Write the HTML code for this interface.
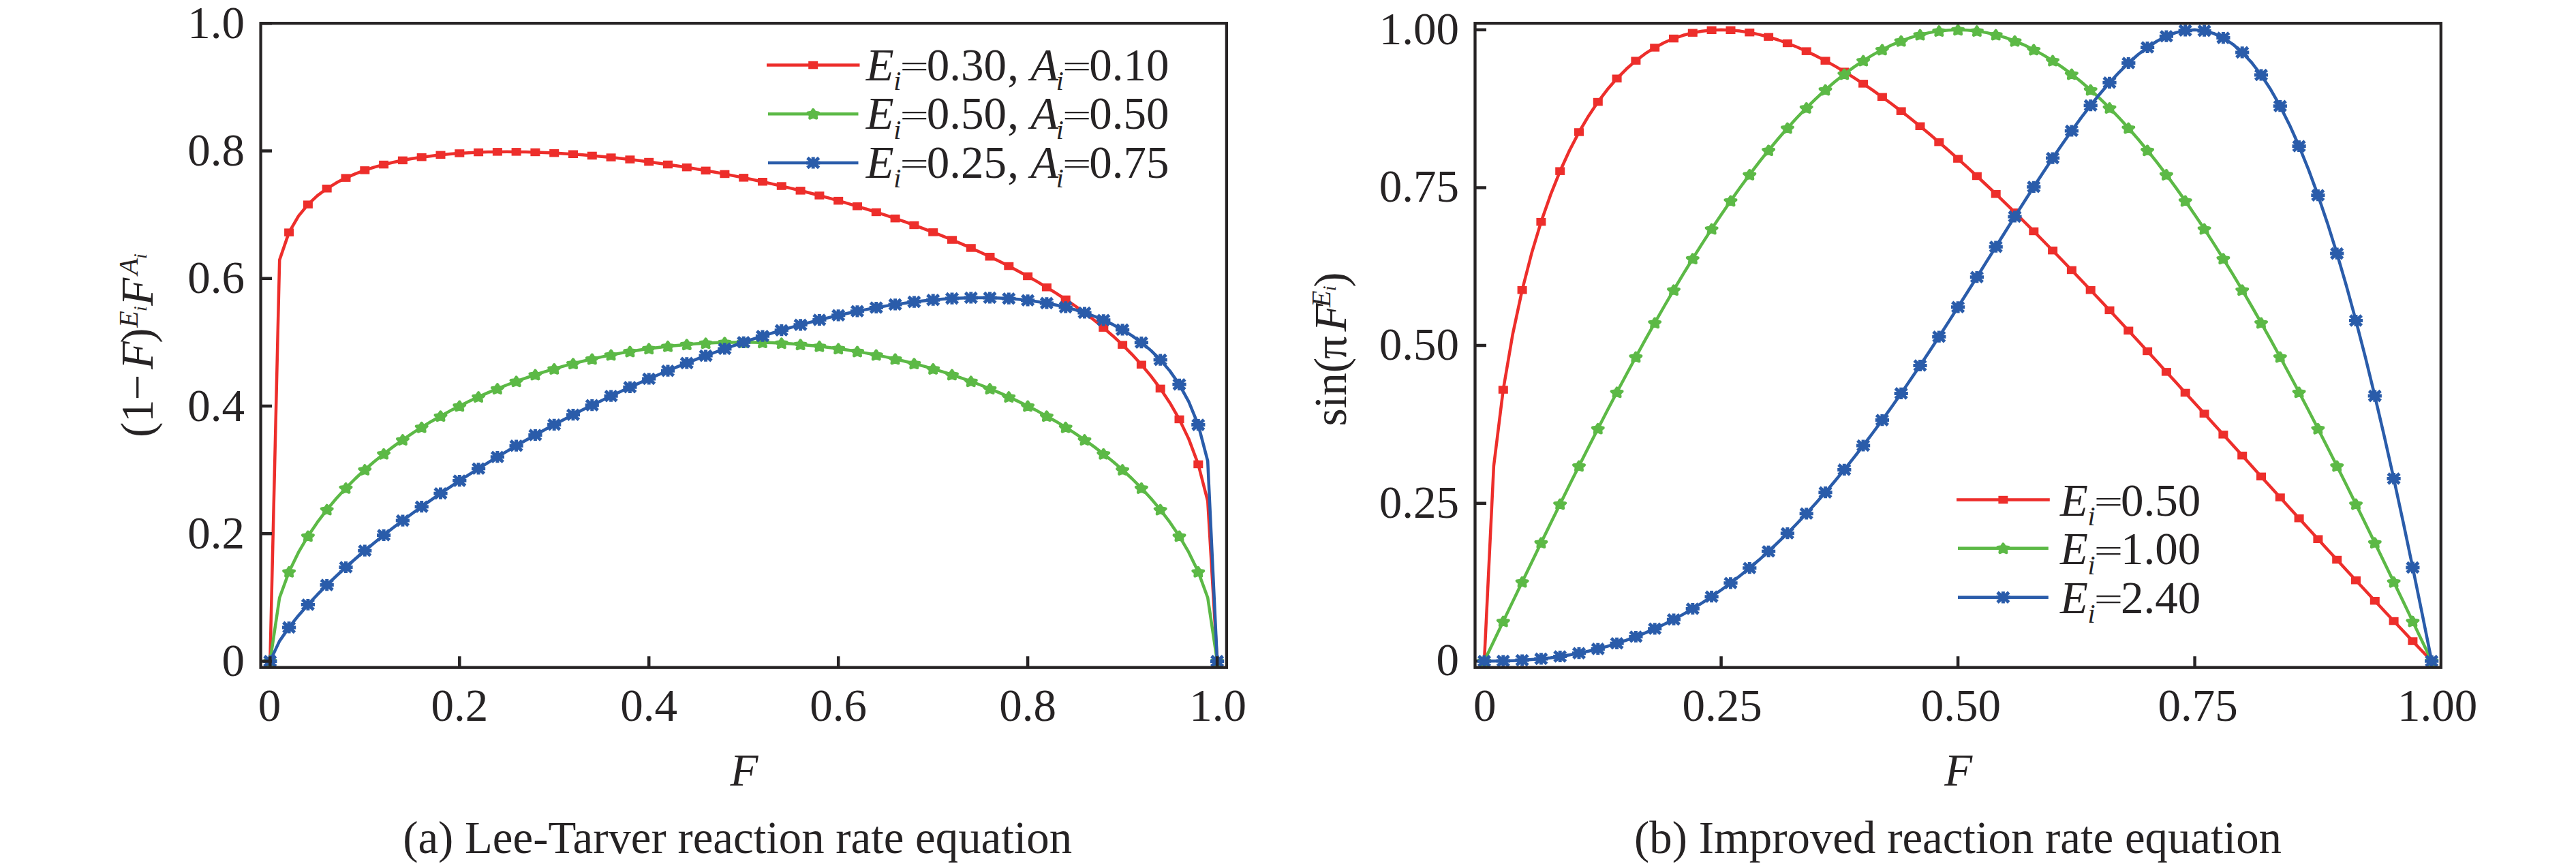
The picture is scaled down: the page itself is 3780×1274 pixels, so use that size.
<!DOCTYPE html>
<html><head><meta charset="utf-8"><title>Reaction rate equations</title>
<style>
html,body{margin:0;padding:0;background:#fff;}
body{width:3780px;height:1274px;overflow:hidden;}
svg{display:block;}
text{font-family:"Liberation Serif","Times New Roman",serif;fill:#262324;}
.i{font-style:italic;}
</style></head><body>
<svg width="3780" height="1274" viewBox="0 0 3780 1274">
<rect width="3780" height="1274" fill="#fff"/>
<path d="M396.3 970.4 L410.2 381.5 L424.1 341.1 L438.0 317.1 L451.9 300.1 L465.8 287.1 L479.7 276.8 L493.6 268.3 L507.5 261.1 L521.4 255.1 L535.3 249.9 L549.2 245.4 L563.1 241.6 L577.0 238.2 L590.9 235.3 L604.8 232.8 L618.7 230.7 L632.6 228.9 L646.5 227.3 L660.4 226.0 L674.3 225.0 L688.2 224.2 L702.1 223.5 L716.0 223.1 L729.9 222.9 L743.8 222.8 L757.6 222.9 L771.5 223.1 L785.4 223.5 L799.3 224.0 L813.2 224.6 L827.1 225.4 L841.0 226.3 L854.9 227.3 L868.8 228.4 L882.7 229.7 L896.6 231.0 L910.5 232.5 L924.4 234.1 L938.3 235.8 L952.2 237.5 L966.1 239.4 L980.0 241.4 L993.9 243.5 L1007.8 245.7 L1021.7 248.0 L1035.6 250.4 L1049.5 252.8 L1063.4 255.4 L1077.3 258.1 L1091.2 260.9 L1105.1 263.8 L1119.0 266.8 L1132.9 269.9 L1146.8 273.1 L1160.7 276.4 L1174.6 279.8 L1188.5 283.3 L1202.4 287.0 L1216.3 290.7 L1230.2 294.6 L1244.1 298.6 L1258.0 302.8 L1271.9 307.0 L1285.8 311.4 L1299.7 315.9 L1313.6 320.6 L1327.5 325.4 L1341.4 330.4 L1355.3 335.6 L1369.2 340.9 L1383.1 346.4 L1397.0 352.0 L1410.9 357.9 L1424.8 364.0 L1438.6 370.3 L1452.5 376.8 L1466.4 383.5 L1480.3 390.6 L1494.2 397.9 L1508.1 405.5 L1522.0 413.4 L1535.9 421.7 L1549.8 430.4 L1563.7 439.5 L1577.6 449.0 L1591.5 459.1 L1605.4 469.8 L1619.3 481.1 L1633.2 493.2 L1647.1 506.1 L1661.0 520.1 L1674.9 535.2 L1688.8 551.9 L1702.7 570.3 L1716.6 591.2 L1730.5 615.4 L1744.4 644.4 L1758.3 681.5 L1772.2 735.5 L1786.1 970.4" fill="none" stroke="#ed2e2b" stroke-width="4.5" stroke-linejoin="round"/>
<g><rect x="389.3" y="964.6" width="14.0" height="11.5" fill="#ed2e2b"/><rect x="417.1" y="335.4" width="14.0" height="11.5" fill="#ed2e2b"/><rect x="444.9" y="294.4" width="14.0" height="11.5" fill="#ed2e2b"/><rect x="472.7" y="271.0" width="14.0" height="11.5" fill="#ed2e2b"/><rect x="500.5" y="255.4" width="14.0" height="11.5" fill="#ed2e2b"/><rect x="528.3" y="244.1" width="14.0" height="11.5" fill="#ed2e2b"/><rect x="556.1" y="235.8" width="14.0" height="11.5" fill="#ed2e2b"/><rect x="583.9" y="229.6" width="14.0" height="11.5" fill="#ed2e2b"/><rect x="611.7" y="224.9" width="14.0" height="11.5" fill="#ed2e2b"/><rect x="639.5" y="221.6" width="14.0" height="11.5" fill="#ed2e2b"/><rect x="667.3" y="219.2" width="14.0" height="11.5" fill="#ed2e2b"/><rect x="695.1" y="217.8" width="14.0" height="11.5" fill="#ed2e2b"/><rect x="722.9" y="217.1" width="14.0" height="11.5" fill="#ed2e2b"/><rect x="750.6" y="217.1" width="14.0" height="11.5" fill="#ed2e2b"/><rect x="778.4" y="217.7" width="14.0" height="11.5" fill="#ed2e2b"/><rect x="806.2" y="218.9" width="14.0" height="11.5" fill="#ed2e2b"/><rect x="834.0" y="220.5" width="14.0" height="11.5" fill="#ed2e2b"/><rect x="861.8" y="222.7" width="14.0" height="11.5" fill="#ed2e2b"/><rect x="889.6" y="225.3" width="14.0" height="11.5" fill="#ed2e2b"/><rect x="917.4" y="228.3" width="14.0" height="11.5" fill="#ed2e2b"/><rect x="945.2" y="231.8" width="14.0" height="11.5" fill="#ed2e2b"/><rect x="973.0" y="235.7" width="14.0" height="11.5" fill="#ed2e2b"/><rect x="1000.8" y="239.9" width="14.0" height="11.5" fill="#ed2e2b"/><rect x="1028.6" y="244.6" width="14.0" height="11.5" fill="#ed2e2b"/><rect x="1056.4" y="249.7" width="14.0" height="11.5" fill="#ed2e2b"/><rect x="1084.2" y="255.1" width="14.0" height="11.5" fill="#ed2e2b"/><rect x="1112.0" y="261.0" width="14.0" height="11.5" fill="#ed2e2b"/><rect x="1139.8" y="267.3" width="14.0" height="11.5" fill="#ed2e2b"/><rect x="1167.6" y="274.1" width="14.0" height="11.5" fill="#ed2e2b"/><rect x="1195.4" y="281.2" width="14.0" height="11.5" fill="#ed2e2b"/><rect x="1223.2" y="288.9" width="14.0" height="11.5" fill="#ed2e2b"/><rect x="1251.0" y="297.0" width="14.0" height="11.5" fill="#ed2e2b"/><rect x="1278.8" y="305.7" width="14.0" height="11.5" fill="#ed2e2b"/><rect x="1306.6" y="314.9" width="14.0" height="11.5" fill="#ed2e2b"/><rect x="1334.4" y="324.7" width="14.0" height="11.5" fill="#ed2e2b"/><rect x="1362.2" y="335.1" width="14.0" height="11.5" fill="#ed2e2b"/><rect x="1390.0" y="346.3" width="14.0" height="11.5" fill="#ed2e2b"/><rect x="1417.8" y="358.2" width="14.0" height="11.5" fill="#ed2e2b"/><rect x="1445.5" y="371.0" width="14.0" height="11.5" fill="#ed2e2b"/><rect x="1473.3" y="384.8" width="14.0" height="11.5" fill="#ed2e2b"/><rect x="1501.1" y="399.7" width="14.0" height="11.5" fill="#ed2e2b"/><rect x="1528.9" y="416.0" width="14.0" height="11.5" fill="#ed2e2b"/><rect x="1556.7" y="433.7" width="14.0" height="11.5" fill="#ed2e2b"/><rect x="1584.5" y="453.4" width="14.0" height="11.5" fill="#ed2e2b"/><rect x="1612.3" y="475.4" width="14.0" height="11.5" fill="#ed2e2b"/><rect x="1640.1" y="500.4" width="14.0" height="11.5" fill="#ed2e2b"/><rect x="1667.9" y="529.5" width="14.0" height="11.5" fill="#ed2e2b"/><rect x="1695.7" y="564.6" width="14.0" height="11.5" fill="#ed2e2b"/><rect x="1723.5" y="609.7" width="14.0" height="11.5" fill="#ed2e2b"/><rect x="1751.3" y="675.7" width="14.0" height="11.5" fill="#ed2e2b"/><rect x="1779.1" y="964.6" width="14.0" height="11.5" fill="#ed2e2b"/></g>
<path d="M396.3 970.4 L410.2 877.2 L424.1 839.3 L438.0 810.7 L451.9 786.9 L465.8 766.4 L479.7 748.1 L493.6 731.5 L507.5 716.4 L521.4 702.5 L535.3 689.5 L549.2 677.5 L563.1 666.2 L577.0 655.6 L590.9 645.6 L604.8 636.1 L618.7 627.2 L632.6 618.7 L646.5 610.7 L660.4 603.1 L674.3 595.9 L688.2 589.1 L702.1 582.6 L716.0 576.4 L729.9 570.6 L743.8 565.0 L757.6 559.8 L771.5 554.8 L785.4 550.0 L799.3 545.6 L813.2 541.4 L827.1 537.4 L841.0 533.7 L854.9 530.2 L868.8 526.9 L882.7 523.9 L896.6 521.0 L910.5 518.4 L924.4 516.0 L938.3 513.8 L952.2 511.8 L966.1 509.9 L980.0 508.3 L993.9 506.9 L1007.8 505.7 L1021.7 504.6 L1035.6 503.8 L1049.5 503.1 L1063.4 502.7 L1077.3 502.4 L1091.2 502.3 L1105.1 502.4 L1119.0 502.7 L1132.9 503.1 L1146.8 503.8 L1160.7 504.6 L1174.6 505.7 L1188.5 506.9 L1202.4 508.3 L1216.3 509.9 L1230.2 511.8 L1244.1 513.8 L1258.0 516.0 L1271.9 518.4 L1285.8 521.0 L1299.7 523.9 L1313.6 526.9 L1327.5 530.2 L1341.4 533.7 L1355.3 537.4 L1369.2 541.4 L1383.1 545.6 L1397.0 550.0 L1410.9 554.8 L1424.8 559.8 L1438.6 565.0 L1452.5 570.6 L1466.4 576.4 L1480.3 582.6 L1494.2 589.1 L1508.1 595.9 L1522.0 603.1 L1535.9 610.7 L1549.8 618.7 L1563.7 627.2 L1577.6 636.1 L1591.5 645.6 L1605.4 655.6 L1619.3 666.2 L1633.2 677.5 L1647.1 689.5 L1661.0 702.5 L1674.9 716.4 L1688.8 731.5 L1702.7 748.1 L1716.6 766.4 L1730.5 786.9 L1744.4 810.7 L1758.3 839.3 L1772.2 877.2 L1786.1 970.4" fill="none" stroke="#5cb946" stroke-width="4.5" stroke-linejoin="round"/>
<g><polygon points="396.3,964.2 398.8,968.1 404.1,968.9 400.4,972.2 401.1,976.6 396.3,974.6 391.5,976.6 392.2,972.2 388.5,968.9 393.8,968.1" fill="#5cb946" stroke="#5cb946" stroke-width="4.4" stroke-linejoin="round"/><polygon points="424.1,833.1 426.6,837.1 431.9,837.9 428.2,841.1 428.9,845.5 424.1,843.6 419.3,845.5 420.0,841.1 416.3,837.9 421.6,837.1" fill="#5cb946" stroke="#5cb946" stroke-width="4.4" stroke-linejoin="round"/><polygon points="451.9,780.7 454.4,784.7 459.7,785.5 456.0,788.7 456.7,793.1 451.9,791.2 447.1,793.1 447.8,788.7 444.1,785.5 449.4,784.7" fill="#5cb946" stroke="#5cb946" stroke-width="4.4" stroke-linejoin="round"/><polygon points="479.7,741.9 482.2,745.8 487.5,746.6 483.8,749.8 484.5,754.3 479.7,752.3 474.9,754.3 475.6,749.8 471.9,746.6 477.2,745.8" fill="#5cb946" stroke="#5cb946" stroke-width="4.4" stroke-linejoin="round"/><polygon points="507.5,710.2 510.0,714.2 515.3,715.0 511.6,718.2 512.3,722.6 507.5,720.7 502.7,722.6 503.4,718.2 499.7,715.0 505.0,714.2" fill="#5cb946" stroke="#5cb946" stroke-width="4.4" stroke-linejoin="round"/><polygon points="535.3,683.3 537.8,687.3 543.1,688.1 539.4,691.3 540.1,695.7 535.3,693.8 530.5,695.7 531.2,691.3 527.5,688.1 532.8,687.3" fill="#5cb946" stroke="#5cb946" stroke-width="4.4" stroke-linejoin="round"/><polygon points="563.1,660.0 565.6,663.9 570.9,664.7 567.2,667.9 567.9,672.4 563.1,670.4 558.3,672.4 559.0,667.9 555.3,664.7 560.5,663.9" fill="#5cb946" stroke="#5cb946" stroke-width="4.4" stroke-linejoin="round"/><polygon points="590.9,639.4 593.4,643.3 598.7,644.1 595.0,647.3 595.7,651.8 590.9,649.8 586.1,651.8 586.8,647.3 583.1,644.1 588.3,643.3" fill="#5cb946" stroke="#5cb946" stroke-width="4.4" stroke-linejoin="round"/><polygon points="618.7,621.0 621.2,624.9 626.5,625.7 622.8,628.9 623.5,633.4 618.7,631.4 613.8,633.4 614.6,628.9 610.9,625.7 616.1,624.9" fill="#5cb946" stroke="#5cb946" stroke-width="4.4" stroke-linejoin="round"/><polygon points="646.5,604.5 649.0,608.5 654.3,609.3 650.6,612.5 651.3,616.9 646.5,615.0 641.6,616.9 642.4,612.5 638.7,609.3 643.9,608.5" fill="#5cb946" stroke="#5cb946" stroke-width="4.4" stroke-linejoin="round"/><polygon points="674.3,589.7 676.8,593.7 682.1,594.5 678.3,597.7 679.1,602.1 674.3,600.2 669.4,602.1 670.2,597.7 666.5,594.5 671.7,593.7" fill="#5cb946" stroke="#5cb946" stroke-width="4.4" stroke-linejoin="round"/><polygon points="702.1,576.4 704.6,580.3 709.9,581.1 706.1,584.3 706.9,588.8 702.1,586.8 697.2,588.8 698.0,584.3 694.3,581.1 699.5,580.3" fill="#5cb946" stroke="#5cb946" stroke-width="4.4" stroke-linejoin="round"/><polygon points="729.9,564.4 732.4,568.3 737.7,569.1 733.9,572.3 734.7,576.8 729.9,574.8 725.0,576.8 725.8,572.3 722.1,569.1 727.3,568.3" fill="#5cb946" stroke="#5cb946" stroke-width="4.4" stroke-linejoin="round"/><polygon points="757.6,553.6 760.2,557.5 765.4,558.3 761.7,561.5 762.5,566.0 757.6,564.0 752.8,566.0 753.6,561.5 749.8,558.3 755.1,557.5" fill="#5cb946" stroke="#5cb946" stroke-width="4.4" stroke-linejoin="round"/><polygon points="785.4,543.8 788.0,547.8 793.2,548.6 789.5,551.8 790.3,556.2 785.4,554.3 780.6,556.2 781.4,551.8 777.6,548.6 782.9,547.8" fill="#5cb946" stroke="#5cb946" stroke-width="4.4" stroke-linejoin="round"/><polygon points="813.2,535.2 815.8,539.1 821.0,539.9 817.3,543.1 818.1,547.6 813.2,545.6 808.4,547.6 809.2,543.1 805.4,539.9 810.7,539.1" fill="#5cb946" stroke="#5cb946" stroke-width="4.4" stroke-linejoin="round"/><polygon points="841.0,527.5 843.6,531.4 848.8,532.2 845.1,535.5 845.9,539.9 841.0,537.9 836.2,539.9 836.9,535.5 833.2,532.2 838.5,531.4" fill="#5cb946" stroke="#5cb946" stroke-width="4.4" stroke-linejoin="round"/><polygon points="868.8,520.7 871.4,524.7 876.6,525.5 872.9,528.7 873.7,533.1 868.8,531.2 864.0,533.1 864.7,528.7 861.0,525.5 866.3,524.7" fill="#5cb946" stroke="#5cb946" stroke-width="4.4" stroke-linejoin="round"/><polygon points="896.6,514.8 899.2,518.8 904.4,519.6 900.7,522.8 901.4,527.2 896.6,525.3 891.8,527.2 892.5,522.8 888.8,519.6 894.1,518.8" fill="#5cb946" stroke="#5cb946" stroke-width="4.4" stroke-linejoin="round"/><polygon points="924.4,509.8 927.0,513.7 932.2,514.5 928.5,517.7 929.2,522.2 924.4,520.2 919.6,522.2 920.3,517.7 916.6,514.5 921.9,513.7" fill="#5cb946" stroke="#5cb946" stroke-width="4.4" stroke-linejoin="round"/><polygon points="952.2,505.6 954.7,509.5 960.0,510.3 956.3,513.5 957.0,518.0 952.2,516.0 947.4,518.0 948.1,513.5 944.4,510.3 949.7,509.5" fill="#5cb946" stroke="#5cb946" stroke-width="4.4" stroke-linejoin="round"/><polygon points="980.0,502.1 982.5,506.1 987.8,506.9 984.1,510.1 984.8,514.5 980.0,512.6 975.2,514.5 975.9,510.1 972.2,506.9 977.5,506.1" fill="#5cb946" stroke="#5cb946" stroke-width="4.4" stroke-linejoin="round"/><polygon points="1007.8,499.5 1010.3,503.4 1015.6,504.2 1011.9,507.4 1012.6,511.9 1007.8,509.9 1003.0,511.9 1003.7,507.4 1000.0,504.2 1005.3,503.4" fill="#5cb946" stroke="#5cb946" stroke-width="4.4" stroke-linejoin="round"/><polygon points="1035.6,497.6 1038.1,501.5 1043.4,502.3 1039.7,505.6 1040.4,510.0 1035.6,508.0 1030.8,510.0 1031.5,505.6 1027.8,502.3 1033.1,501.5" fill="#5cb946" stroke="#5cb946" stroke-width="4.4" stroke-linejoin="round"/><polygon points="1063.4,496.5 1065.9,500.4 1071.2,501.2 1067.5,504.4 1068.2,508.9 1063.4,506.9 1058.6,508.9 1059.3,504.4 1055.6,501.2 1060.9,500.4" fill="#5cb946" stroke="#5cb946" stroke-width="4.4" stroke-linejoin="round"/><polygon points="1091.2,496.1 1093.7,500.0 1099.0,500.8 1095.3,504.1 1096.0,508.5 1091.2,506.5 1086.4,508.5 1087.1,504.1 1083.4,500.8 1088.7,500.0" fill="#5cb946" stroke="#5cb946" stroke-width="4.4" stroke-linejoin="round"/><polygon points="1119.0,496.5 1121.5,500.4 1126.8,501.2 1123.1,504.4 1123.8,508.9 1119.0,506.9 1114.2,508.9 1114.9,504.4 1111.2,501.2 1116.5,500.4" fill="#5cb946" stroke="#5cb946" stroke-width="4.4" stroke-linejoin="round"/><polygon points="1146.8,497.6 1149.3,501.5 1154.6,502.3 1150.9,505.6 1151.6,510.0 1146.8,508.0 1142.0,510.0 1142.7,505.6 1139.0,502.3 1144.3,501.5" fill="#5cb946" stroke="#5cb946" stroke-width="4.4" stroke-linejoin="round"/><polygon points="1174.6,499.5 1177.1,503.4 1182.4,504.2 1178.7,507.4 1179.4,511.9 1174.6,509.9 1169.8,511.9 1170.5,507.4 1166.8,504.2 1172.1,503.4" fill="#5cb946" stroke="#5cb946" stroke-width="4.4" stroke-linejoin="round"/><polygon points="1202.4,502.1 1204.9,506.1 1210.2,506.9 1206.5,510.1 1207.2,514.5 1202.4,512.6 1197.6,514.5 1198.3,510.1 1194.6,506.9 1199.9,506.1" fill="#5cb946" stroke="#5cb946" stroke-width="4.4" stroke-linejoin="round"/><polygon points="1230.2,505.6 1232.7,509.5 1238.0,510.3 1234.3,513.5 1235.0,518.0 1230.2,516.0 1225.4,518.0 1226.1,513.5 1222.4,510.3 1227.7,509.5" fill="#5cb946" stroke="#5cb946" stroke-width="4.4" stroke-linejoin="round"/><polygon points="1258.0,509.8 1260.5,513.7 1265.8,514.5 1262.1,517.7 1262.8,522.2 1258.0,520.2 1253.2,522.2 1253.9,517.7 1250.2,514.5 1255.4,513.7" fill="#5cb946" stroke="#5cb946" stroke-width="4.4" stroke-linejoin="round"/><polygon points="1285.8,514.8 1288.3,518.8 1293.6,519.6 1289.9,522.8 1290.6,527.2 1285.8,525.3 1281.0,527.2 1281.7,522.8 1278.0,519.6 1283.2,518.8" fill="#5cb946" stroke="#5cb946" stroke-width="4.4" stroke-linejoin="round"/><polygon points="1313.6,520.7 1316.1,524.7 1321.4,525.5 1317.7,528.7 1318.4,533.1 1313.6,531.2 1308.7,533.1 1309.5,528.7 1305.8,525.5 1311.0,524.7" fill="#5cb946" stroke="#5cb946" stroke-width="4.4" stroke-linejoin="round"/><polygon points="1341.4,527.5 1343.9,531.4 1349.2,532.2 1345.5,535.5 1346.2,539.9 1341.4,537.9 1336.5,539.9 1337.3,535.5 1333.6,532.2 1338.8,531.4" fill="#5cb946" stroke="#5cb946" stroke-width="4.4" stroke-linejoin="round"/><polygon points="1369.2,535.2 1371.7,539.1 1377.0,539.9 1373.2,543.1 1374.0,547.6 1369.2,545.6 1364.3,547.6 1365.1,543.1 1361.4,539.9 1366.6,539.1" fill="#5cb946" stroke="#5cb946" stroke-width="4.4" stroke-linejoin="round"/><polygon points="1397.0,543.8 1399.5,547.8 1404.8,548.6 1401.0,551.8 1401.8,556.2 1397.0,554.3 1392.1,556.2 1392.9,551.8 1389.2,548.6 1394.4,547.8" fill="#5cb946" stroke="#5cb946" stroke-width="4.4" stroke-linejoin="round"/><polygon points="1424.8,553.6 1427.3,557.5 1432.6,558.3 1428.8,561.5 1429.6,566.0 1424.8,564.0 1419.9,566.0 1420.7,561.5 1417.0,558.3 1422.2,557.5" fill="#5cb946" stroke="#5cb946" stroke-width="4.4" stroke-linejoin="round"/><polygon points="1452.5,564.4 1455.1,568.3 1460.3,569.1 1456.6,572.3 1457.4,576.8 1452.5,574.8 1447.7,576.8 1448.5,572.3 1444.7,569.1 1450.0,568.3" fill="#5cb946" stroke="#5cb946" stroke-width="4.4" stroke-linejoin="round"/><polygon points="1480.3,576.4 1482.9,580.3 1488.1,581.1 1484.4,584.3 1485.2,588.8 1480.3,586.8 1475.5,588.8 1476.3,584.3 1472.5,581.1 1477.8,580.3" fill="#5cb946" stroke="#5cb946" stroke-width="4.4" stroke-linejoin="round"/><polygon points="1508.1,589.7 1510.7,593.7 1515.9,594.5 1512.2,597.7 1513.0,602.1 1508.1,600.2 1503.3,602.1 1504.1,597.7 1500.3,594.5 1505.6,593.7" fill="#5cb946" stroke="#5cb946" stroke-width="4.4" stroke-linejoin="round"/><polygon points="1535.9,604.5 1538.5,608.5 1543.7,609.3 1540.0,612.5 1540.8,616.9 1535.9,615.0 1531.1,616.9 1531.8,612.5 1528.1,609.3 1533.4,608.5" fill="#5cb946" stroke="#5cb946" stroke-width="4.4" stroke-linejoin="round"/><polygon points="1563.7,621.0 1566.3,624.9 1571.5,625.7 1567.8,628.9 1568.6,633.4 1563.7,631.4 1558.9,633.4 1559.6,628.9 1555.9,625.7 1561.2,624.9" fill="#5cb946" stroke="#5cb946" stroke-width="4.4" stroke-linejoin="round"/><polygon points="1591.5,639.4 1594.1,643.3 1599.3,644.1 1595.6,647.3 1596.3,651.8 1591.5,649.8 1586.7,651.8 1587.4,647.3 1583.7,644.1 1589.0,643.3" fill="#5cb946" stroke="#5cb946" stroke-width="4.4" stroke-linejoin="round"/><polygon points="1619.3,660.0 1621.9,663.9 1627.1,664.7 1623.4,667.9 1624.1,672.4 1619.3,670.4 1614.5,672.4 1615.2,667.9 1611.5,664.7 1616.8,663.9" fill="#5cb946" stroke="#5cb946" stroke-width="4.4" stroke-linejoin="round"/><polygon points="1647.1,683.3 1649.6,687.3 1654.9,688.1 1651.2,691.3 1651.9,695.7 1647.1,693.8 1642.3,695.7 1643.0,691.3 1639.3,688.1 1644.6,687.3" fill="#5cb946" stroke="#5cb946" stroke-width="4.4" stroke-linejoin="round"/><polygon points="1674.9,710.2 1677.4,714.2 1682.7,715.0 1679.0,718.2 1679.7,722.6 1674.9,720.7 1670.1,722.6 1670.8,718.2 1667.1,715.0 1672.4,714.2" fill="#5cb946" stroke="#5cb946" stroke-width="4.4" stroke-linejoin="round"/><polygon points="1702.7,741.9 1705.2,745.8 1710.5,746.6 1706.8,749.8 1707.5,754.3 1702.7,752.3 1697.9,754.3 1698.6,749.8 1694.9,746.6 1700.2,745.8" fill="#5cb946" stroke="#5cb946" stroke-width="4.4" stroke-linejoin="round"/><polygon points="1730.5,780.7 1733.0,784.7 1738.3,785.5 1734.6,788.7 1735.3,793.1 1730.5,791.2 1725.7,793.1 1726.4,788.7 1722.7,785.5 1728.0,784.7" fill="#5cb946" stroke="#5cb946" stroke-width="4.4" stroke-linejoin="round"/><polygon points="1758.3,833.1 1760.8,837.1 1766.1,837.9 1762.4,841.1 1763.1,845.5 1758.3,843.6 1753.5,845.5 1754.2,841.1 1750.5,837.9 1755.8,837.1" fill="#5cb946" stroke="#5cb946" stroke-width="4.4" stroke-linejoin="round"/><polygon points="1786.1,964.2 1788.6,968.1 1793.9,968.9 1790.2,972.2 1790.9,976.6 1786.1,974.6 1781.3,976.6 1782.0,972.2 1778.3,968.9 1783.6,968.1" fill="#5cb946" stroke="#5cb946" stroke-width="4.4" stroke-linejoin="round"/></g>
<path d="M396.3 970.4 L410.2 940.9 L424.1 920.9 L438.0 903.4 L451.9 887.5 L465.8 872.7 L479.7 858.6 L493.6 845.3 L507.5 832.5 L521.4 820.2 L535.3 808.2 L549.2 796.7 L563.1 785.5 L577.0 774.6 L590.9 764.1 L604.8 753.7 L618.7 743.7 L632.6 733.8 L646.5 724.2 L660.4 714.8 L674.3 705.6 L688.2 696.6 L702.1 687.8 L716.0 679.1 L729.9 670.7 L743.8 662.4 L757.6 654.2 L771.5 646.3 L785.4 638.5 L799.3 630.8 L813.2 623.3 L827.1 615.9 L841.0 608.7 L854.9 601.6 L868.8 594.7 L882.7 587.9 L896.6 581.2 L910.5 574.7 L924.4 568.3 L938.3 562.1 L952.2 556.0 L966.1 550.0 L980.0 544.2 L993.9 538.4 L1007.8 532.9 L1021.7 527.4 L1035.6 522.1 L1049.5 517.0 L1063.4 511.9 L1077.3 507.1 L1091.2 502.3 L1105.1 497.7 L1119.0 493.2 L1132.9 488.9 L1146.8 484.7 L1160.7 480.7 L1174.6 476.8 L1188.5 473.1 L1202.4 469.5 L1216.3 466.1 L1230.2 462.8 L1244.1 459.7 L1258.0 456.8 L1271.9 454.1 L1285.8 451.5 L1299.7 449.1 L1313.6 446.9 L1327.5 444.9 L1341.4 443.1 L1355.3 441.5 L1369.2 440.2 L1383.1 439.0 L1397.0 438.1 L1410.9 437.4 L1424.8 437.0 L1438.6 436.9 L1452.5 437.0 L1466.4 437.5 L1480.3 438.2 L1494.2 439.3 L1508.1 440.8 L1522.0 442.7 L1535.9 444.9 L1549.8 447.7 L1563.7 450.9 L1577.6 454.6 L1591.5 459.0 L1605.4 464.0 L1619.3 469.8 L1633.2 476.4 L1647.1 483.9 L1661.0 492.6 L1674.9 502.7 L1688.8 514.4 L1702.7 528.1 L1716.6 544.4 L1730.5 564.3 L1744.4 589.6 L1758.3 623.6 L1772.2 676.6 L1786.1 970.4" fill="none" stroke="#2a5caa" stroke-width="4.5" stroke-linejoin="round"/>
<g><path d="M386.2 970.4H406.4M396.3 961.8V979.0M387.9 963.0L404.7 977.8M387.9 977.8L404.7 963.0" stroke="#2a5caa" stroke-width="5.0" fill="none"/><path d="M414.0 920.9H434.2M424.1 912.3V929.5M415.7 913.5L432.5 928.3M415.7 928.3L432.5 913.5" stroke="#2a5caa" stroke-width="5.0" fill="none"/><path d="M441.8 887.5H462.0M451.9 878.9V896.1M443.5 880.1L460.3 894.9M443.5 894.9L460.3 880.1" stroke="#2a5caa" stroke-width="5.0" fill="none"/><path d="M469.6 858.6H489.8M479.7 850.0V867.2M471.3 851.2L488.1 866.0M471.3 866.0L488.1 851.2" stroke="#2a5caa" stroke-width="5.0" fill="none"/><path d="M497.4 832.5H517.6M507.5 823.9V841.1M499.1 825.1L515.9 839.9M499.1 839.9L515.9 825.1" stroke="#2a5caa" stroke-width="5.0" fill="none"/><path d="M525.2 808.2H545.4M535.3 799.6V816.8M526.9 800.8L543.7 815.6M526.9 815.6L543.7 800.8" stroke="#2a5caa" stroke-width="5.0" fill="none"/><path d="M553.0 785.5H573.2M563.1 776.9V794.1M554.7 778.1L571.5 792.9M554.7 792.9L571.5 778.1" stroke="#2a5caa" stroke-width="5.0" fill="none"/><path d="M580.8 764.1H601.0M590.9 755.5V772.7M582.5 756.7L599.3 771.5M582.5 771.5L599.3 756.7" stroke="#2a5caa" stroke-width="5.0" fill="none"/><path d="M608.6 743.7H628.8M618.7 735.1V752.3M610.3 736.3L627.1 751.1M610.3 751.1L627.1 736.3" stroke="#2a5caa" stroke-width="5.0" fill="none"/><path d="M636.4 724.2H656.6M646.5 715.6V732.8M638.1 716.8L654.9 731.6M638.1 731.6L654.9 716.8" stroke="#2a5caa" stroke-width="5.0" fill="none"/><path d="M664.2 705.6H684.4M674.3 697.0V714.2M665.9 698.2L682.7 713.0M665.9 713.0L682.7 698.2" stroke="#2a5caa" stroke-width="5.0" fill="none"/><path d="M692.0 687.8H712.2M702.1 679.2V696.4M693.7 680.4L710.5 695.2M693.7 695.2L710.5 680.4" stroke="#2a5caa" stroke-width="5.0" fill="none"/><path d="M719.8 670.7H740.0M729.9 662.1V679.3M721.5 663.3L738.3 678.1M721.5 678.1L738.3 663.3" stroke="#2a5caa" stroke-width="5.0" fill="none"/><path d="M747.5 654.2H767.7M757.6 645.6V662.8M749.2 646.8L766.0 661.6M749.2 661.6L766.0 646.8" stroke="#2a5caa" stroke-width="5.0" fill="none"/><path d="M775.3 638.5H795.5M785.4 629.9V647.1M777.0 631.1L793.8 645.9M777.0 645.9L793.8 631.1" stroke="#2a5caa" stroke-width="5.0" fill="none"/><path d="M803.1 623.3H823.3M813.2 614.7V631.9M804.8 615.9L821.6 630.7M804.8 630.7L821.6 615.9" stroke="#2a5caa" stroke-width="5.0" fill="none"/><path d="M830.9 608.7H851.1M841.0 600.1V617.3M832.6 601.3L849.4 616.1M832.6 616.1L849.4 601.3" stroke="#2a5caa" stroke-width="5.0" fill="none"/><path d="M858.7 594.7H878.9M868.8 586.1V603.3M860.4 587.3L877.2 602.1M860.4 602.1L877.2 587.3" stroke="#2a5caa" stroke-width="5.0" fill="none"/><path d="M886.5 581.2H906.7M896.6 572.6V589.8M888.2 573.8L905.0 588.6M888.2 588.6L905.0 573.8" stroke="#2a5caa" stroke-width="5.0" fill="none"/><path d="M914.3 568.3H934.5M924.4 559.7V576.9M916.0 560.9L932.8 575.7M916.0 575.7L932.8 560.9" stroke="#2a5caa" stroke-width="5.0" fill="none"/><path d="M942.1 556.0H962.3M952.2 547.4V564.6M943.8 548.6L960.6 563.4M943.8 563.4L960.6 548.6" stroke="#2a5caa" stroke-width="5.0" fill="none"/><path d="M969.9 544.2H990.1M980.0 535.6V552.8M971.6 536.8L988.4 551.6M971.6 551.6L988.4 536.8" stroke="#2a5caa" stroke-width="5.0" fill="none"/><path d="M997.7 532.9H1017.9M1007.8 524.3V541.5M999.4 525.5L1016.2 540.3M999.4 540.3L1016.2 525.5" stroke="#2a5caa" stroke-width="5.0" fill="none"/><path d="M1025.5 522.1H1045.7M1035.6 513.5V530.7M1027.2 514.7L1044.0 529.5M1027.2 529.5L1044.0 514.7" stroke="#2a5caa" stroke-width="5.0" fill="none"/><path d="M1053.3 511.9H1073.5M1063.4 503.3V520.5M1055.0 504.5L1071.8 519.3M1055.0 519.3L1071.8 504.5" stroke="#2a5caa" stroke-width="5.0" fill="none"/><path d="M1081.1 502.3H1101.3M1091.2 493.7V510.9M1082.8 494.9L1099.6 509.7M1082.8 509.7L1099.6 494.9" stroke="#2a5caa" stroke-width="5.0" fill="none"/><path d="M1108.9 493.2H1129.1M1119.0 484.6V501.8M1110.6 485.8L1127.4 500.6M1110.6 500.6L1127.4 485.8" stroke="#2a5caa" stroke-width="5.0" fill="none"/><path d="M1136.7 484.7H1156.9M1146.8 476.1V493.3M1138.4 477.3L1155.2 492.1M1138.4 492.1L1155.2 477.3" stroke="#2a5caa" stroke-width="5.0" fill="none"/><path d="M1164.5 476.8H1184.7M1174.6 468.2V485.4M1166.2 469.4L1183.0 484.2M1166.2 484.2L1183.0 469.4" stroke="#2a5caa" stroke-width="5.0" fill="none"/><path d="M1192.3 469.5H1212.5M1202.4 460.9V478.1M1194.0 462.1L1210.8 476.9M1194.0 476.9L1210.8 462.1" stroke="#2a5caa" stroke-width="5.0" fill="none"/><path d="M1220.1 462.8H1240.3M1230.2 454.2V471.4M1221.8 455.4L1238.6 470.2M1221.8 470.2L1238.6 455.4" stroke="#2a5caa" stroke-width="5.0" fill="none"/><path d="M1247.9 456.8H1268.1M1258.0 448.2V465.4M1249.6 449.4L1266.4 464.2M1249.6 464.2L1266.4 449.4" stroke="#2a5caa" stroke-width="5.0" fill="none"/><path d="M1275.7 451.5H1295.9M1285.8 442.9V460.1M1277.4 444.1L1294.2 458.9M1277.4 458.9L1294.2 444.1" stroke="#2a5caa" stroke-width="5.0" fill="none"/><path d="M1303.5 446.9H1323.7M1313.6 438.3V455.5M1305.2 439.5L1322.0 454.3M1305.2 454.3L1322.0 439.5" stroke="#2a5caa" stroke-width="5.0" fill="none"/><path d="M1331.3 443.1H1351.5M1341.4 434.5V451.7M1333.0 435.7L1349.8 450.5M1333.0 450.5L1349.8 435.7" stroke="#2a5caa" stroke-width="5.0" fill="none"/><path d="M1359.1 440.2H1379.3M1369.2 431.6V448.8M1360.8 432.8L1377.6 447.6M1360.8 447.6L1377.6 432.8" stroke="#2a5caa" stroke-width="5.0" fill="none"/><path d="M1386.9 438.1H1407.1M1397.0 429.5V446.7M1388.6 430.7L1405.4 445.5M1388.6 445.5L1405.4 430.7" stroke="#2a5caa" stroke-width="5.0" fill="none"/><path d="M1414.7 437.0H1434.9M1424.8 428.4V445.6M1416.4 429.6L1433.2 444.4M1416.4 444.4L1433.2 429.6" stroke="#2a5caa" stroke-width="5.0" fill="none"/><path d="M1442.4 437.0H1462.6M1452.5 428.4V445.6M1444.1 429.6L1460.9 444.4M1444.1 444.4L1460.9 429.6" stroke="#2a5caa" stroke-width="5.0" fill="none"/><path d="M1470.2 438.2H1490.4M1480.3 429.6V446.8M1471.9 430.8L1488.7 445.6M1471.9 445.6L1488.7 430.8" stroke="#2a5caa" stroke-width="5.0" fill="none"/><path d="M1498.0 440.8H1518.2M1508.1 432.2V449.4M1499.7 433.4L1516.5 448.2M1499.7 448.2L1516.5 433.4" stroke="#2a5caa" stroke-width="5.0" fill="none"/><path d="M1525.8 444.9H1546.0M1535.9 436.3V453.5M1527.5 437.5L1544.3 452.3M1527.5 452.3L1544.3 437.5" stroke="#2a5caa" stroke-width="5.0" fill="none"/><path d="M1553.6 450.9H1573.8M1563.7 442.3V459.5M1555.3 443.5L1572.1 458.3M1555.3 458.3L1572.1 443.5" stroke="#2a5caa" stroke-width="5.0" fill="none"/><path d="M1581.4 459.0H1601.6M1591.5 450.4V467.6M1583.1 451.6L1599.9 466.4M1583.1 466.4L1599.9 451.6" stroke="#2a5caa" stroke-width="5.0" fill="none"/><path d="M1609.2 469.8H1629.4M1619.3 461.2V478.4M1610.9 462.4L1627.7 477.2M1610.9 477.2L1627.7 462.4" stroke="#2a5caa" stroke-width="5.0" fill="none"/><path d="M1637.0 483.9H1657.2M1647.1 475.3V492.5M1638.7 476.5L1655.5 491.3M1638.7 491.3L1655.5 476.5" stroke="#2a5caa" stroke-width="5.0" fill="none"/><path d="M1664.8 502.7H1685.0M1674.9 494.1V511.3M1666.5 495.3L1683.3 510.1M1666.5 510.1L1683.3 495.3" stroke="#2a5caa" stroke-width="5.0" fill="none"/><path d="M1692.6 528.1H1712.8M1702.7 519.5V536.7M1694.3 520.7L1711.1 535.5M1694.3 535.5L1711.1 520.7" stroke="#2a5caa" stroke-width="5.0" fill="none"/><path d="M1720.4 564.3H1740.6M1730.5 555.7V572.9M1722.1 556.9L1738.9 571.7M1722.1 571.7L1738.9 556.9" stroke="#2a5caa" stroke-width="5.0" fill="none"/><path d="M1748.2 623.6H1768.4M1758.3 615.0V632.2M1749.9 616.2L1766.7 631.0M1749.9 631.0L1766.7 616.2" stroke="#2a5caa" stroke-width="5.0" fill="none"/><path d="M1776.0 970.4H1796.2M1786.1 961.8V979.0M1777.7 963.0L1794.5 977.8M1777.7 977.8L1794.5 963.0" stroke="#2a5caa" stroke-width="5.0" fill="none"/></g>
<text x="395.5" y="1058.0" text-anchor="middle" font-size="67" >0</text>
<text x="674.3" y="1058.0" text-anchor="middle" font-size="67" >0.2</text>
<text x="952.2" y="1058.0" text-anchor="middle" font-size="67" >0.4</text>
<text x="1230.2" y="1058.0" text-anchor="middle" font-size="67" >0.6</text>
<text x="1508.1" y="1058.0" text-anchor="middle" font-size="67" >0.8</text>
<text x="1787.0" y="1058.0" text-anchor="middle" font-size="67" >1.0</text>
<text x="359.0" y="992.1" text-anchor="end" font-size="67" >0</text>
<text x="359.0" y="804.9" text-anchor="end" font-size="67" >0.2</text>
<text x="359.0" y="617.6" text-anchor="end" font-size="67" >0.4</text>
<text x="359.0" y="430.4" text-anchor="end" font-size="67" >0.6</text>
<text x="359.0" y="243.1" text-anchor="end" font-size="67" >0.8</text>
<text x="359.0" y="55.9" text-anchor="end" font-size="67" >1.0</text>
<path d="M396.3 979.7V963.2M674.3 979.7V963.2M952.2 979.7V963.2M1230.2 979.7V963.2M1508.1 979.7V963.2M1786.1 979.7V963.2M382.6 970.4H399.1M382.6 783.2H399.1M382.6 595.9H399.1M382.6 408.7H399.1M382.6 221.4H399.1M382.6 34.2H399.1" stroke="#262324" stroke-width="4.5" fill="none"/>
<rect x="382.6" y="34.2" width="1417.3" height="945.5" fill="none" stroke="#262324" stroke-width="4.3"/>
<text x="2178.8" y="1058.0" text-anchor="middle" font-size="67" >0</text>
<text x="2527.1" y="1058.0" text-anchor="middle" font-size="67" >0.25</text>
<text x="2877.4" y="1058.0" text-anchor="middle" font-size="67" >0.50</text>
<text x="3225.2" y="1058.0" text-anchor="middle" font-size="67" >0.75</text>
<text x="3576.5" y="1058.0" text-anchor="middle" font-size="67" >1.00</text>
<text x="2140.9" y="991.3" text-anchor="end" font-size="67" >0</text>
<text x="2140.9" y="759.7" text-anchor="end" font-size="67" >0.25</text>
<text x="2140.9" y="528.0" text-anchor="end" font-size="67" >0.50</text>
<text x="2140.9" y="296.4" text-anchor="end" font-size="67" >0.75</text>
<text x="2140.9" y="64.8" text-anchor="end" font-size="67" >1.00</text>
<path d="M2178.0 979.7V963.2M2525.6 979.7V963.2M2873.1 979.7V963.2M3220.6 979.7V963.2M3568.2 979.7V963.2M2164.5 970.3H2181.0M2164.5 738.7H2181.0M2164.5 507.0H2181.0M2164.5 275.4H2181.0M2164.5 43.8H2181.0" stroke="#262324" stroke-width="4.5" fill="none"/>
<path d="M2178.0 970.3 L2191.9 684.0 L2205.8 572.1 L2219.7 490.7 L2233.6 425.7 L2247.5 371.7 L2261.4 325.6 L2275.3 285.9 L2289.2 251.2 L2303.1 220.7 L2317.0 194.0 L2330.9 170.4 L2344.8 149.6 L2358.7 131.3 L2372.6 115.3 L2386.5 101.3 L2400.4 89.1 L2414.3 78.7 L2428.2 69.9 L2442.1 62.5 L2456.0 56.5 L2469.9 51.8 L2483.8 48.2 L2497.7 45.7 L2511.6 44.3 L2525.6 43.8 L2539.5 44.2 L2553.4 45.6 L2567.3 47.7 L2581.2 50.6 L2595.1 54.2 L2609.0 58.5 L2622.9 63.5 L2636.8 69.0 L2650.7 75.2 L2664.6 81.9 L2678.5 89.1 L2692.4 96.9 L2706.3 105.1 L2720.2 113.8 L2734.1 122.9 L2748.0 132.4 L2761.9 142.3 L2775.8 152.5 L2789.7 163.1 L2803.6 174.0 L2817.5 185.3 L2831.4 196.8 L2845.3 208.7 L2859.2 220.7 L2873.1 233.1 L2887.0 245.7 L2900.9 258.5 L2914.8 271.5 L2928.7 284.7 L2942.6 298.1 L2956.5 311.7 L2970.4 325.5 L2984.3 339.4 L2998.2 353.5 L3012.1 367.7 L3026.0 382.0 L3039.9 396.5 L3053.8 411.0 L3067.7 425.7 L3081.6 440.5 L3095.5 455.3 L3109.4 470.3 L3123.3 485.3 L3137.2 500.3 L3151.1 515.5 L3165.0 530.6 L3178.9 545.9 L3192.8 561.1 L3206.7 576.4 L3220.6 591.8 L3234.6 607.1 L3248.5 622.5 L3262.4 637.8 L3276.3 653.2 L3290.2 668.6 L3304.1 684.0 L3318.0 699.4 L3331.9 714.7 L3345.8 730.1 L3359.7 745.4 L3373.6 760.7 L3387.5 776.0 L3401.4 791.2 L3415.3 806.4 L3429.2 821.6 L3443.1 836.7 L3457.0 851.8 L3470.9 866.8 L3484.8 881.8 L3498.7 896.7 L3512.6 911.5 L3526.5 926.3 L3540.4 941.1 L3554.3 955.7 L3568.2 970.3" fill="none" stroke="#ed2e2b" stroke-width="4.5" stroke-linejoin="round"/>
<g><rect x="2171.0" y="964.5" width="14.0" height="11.5" fill="#ed2e2b"/><rect x="2198.8" y="566.3" width="14.0" height="11.5" fill="#ed2e2b"/><rect x="2226.6" y="420.0" width="14.0" height="11.5" fill="#ed2e2b"/><rect x="2254.4" y="319.9" width="14.0" height="11.5" fill="#ed2e2b"/><rect x="2282.2" y="245.4" width="14.0" height="11.5" fill="#ed2e2b"/><rect x="2310.0" y="188.2" width="14.0" height="11.5" fill="#ed2e2b"/><rect x="2337.8" y="143.8" width="14.0" height="11.5" fill="#ed2e2b"/><rect x="2365.6" y="109.5" width="14.0" height="11.5" fill="#ed2e2b"/><rect x="2393.4" y="83.4" width="14.0" height="11.5" fill="#ed2e2b"/><rect x="2421.2" y="64.2" width="14.0" height="11.5" fill="#ed2e2b"/><rect x="2449.0" y="50.8" width="14.0" height="11.5" fill="#ed2e2b"/><rect x="2476.8" y="42.4" width="14.0" height="11.5" fill="#ed2e2b"/><rect x="2504.6" y="38.5" width="14.0" height="11.5" fill="#ed2e2b"/><rect x="2532.5" y="38.5" width="14.0" height="11.5" fill="#ed2e2b"/><rect x="2560.3" y="41.9" width="14.0" height="11.5" fill="#ed2e2b"/><rect x="2588.1" y="48.4" width="14.0" height="11.5" fill="#ed2e2b"/><rect x="2615.9" y="57.7" width="14.0" height="11.5" fill="#ed2e2b"/><rect x="2643.7" y="69.4" width="14.0" height="11.5" fill="#ed2e2b"/><rect x="2671.5" y="83.4" width="14.0" height="11.5" fill="#ed2e2b"/><rect x="2699.3" y="99.4" width="14.0" height="11.5" fill="#ed2e2b"/><rect x="2727.1" y="117.1" width="14.0" height="11.5" fill="#ed2e2b"/><rect x="2754.9" y="136.5" width="14.0" height="11.5" fill="#ed2e2b"/><rect x="2782.7" y="157.4" width="14.0" height="11.5" fill="#ed2e2b"/><rect x="2810.5" y="179.5" width="14.0" height="11.5" fill="#ed2e2b"/><rect x="2838.3" y="202.9" width="14.0" height="11.5" fill="#ed2e2b"/><rect x="2866.1" y="227.3" width="14.0" height="11.5" fill="#ed2e2b"/><rect x="2893.9" y="252.7" width="14.0" height="11.5" fill="#ed2e2b"/><rect x="2921.7" y="279.0" width="14.0" height="11.5" fill="#ed2e2b"/><rect x="2949.5" y="306.0" width="14.0" height="11.5" fill="#ed2e2b"/><rect x="2977.3" y="333.7" width="14.0" height="11.5" fill="#ed2e2b"/><rect x="3005.1" y="361.9" width="14.0" height="11.5" fill="#ed2e2b"/><rect x="3032.9" y="390.7" width="14.0" height="11.5" fill="#ed2e2b"/><rect x="3060.7" y="420.0" width="14.0" height="11.5" fill="#ed2e2b"/><rect x="3088.5" y="449.6" width="14.0" height="11.5" fill="#ed2e2b"/><rect x="3116.3" y="479.5" width="14.0" height="11.5" fill="#ed2e2b"/><rect x="3144.1" y="509.7" width="14.0" height="11.5" fill="#ed2e2b"/><rect x="3171.9" y="540.1" width="14.0" height="11.5" fill="#ed2e2b"/><rect x="3199.7" y="570.7" width="14.0" height="11.5" fill="#ed2e2b"/><rect x="3227.6" y="601.4" width="14.0" height="11.5" fill="#ed2e2b"/><rect x="3255.4" y="632.1" width="14.0" height="11.5" fill="#ed2e2b"/><rect x="3283.2" y="662.9" width="14.0" height="11.5" fill="#ed2e2b"/><rect x="3311.0" y="693.6" width="14.0" height="11.5" fill="#ed2e2b"/><rect x="3338.8" y="724.3" width="14.0" height="11.5" fill="#ed2e2b"/><rect x="3366.6" y="755.0" width="14.0" height="11.5" fill="#ed2e2b"/><rect x="3394.4" y="785.5" width="14.0" height="11.5" fill="#ed2e2b"/><rect x="3422.2" y="815.8" width="14.0" height="11.5" fill="#ed2e2b"/><rect x="3450.0" y="846.0" width="14.0" height="11.5" fill="#ed2e2b"/><rect x="3477.8" y="876.0" width="14.0" height="11.5" fill="#ed2e2b"/><rect x="3505.6" y="905.8" width="14.0" height="11.5" fill="#ed2e2b"/><rect x="3533.4" y="935.3" width="14.0" height="11.5" fill="#ed2e2b"/><rect x="3561.2" y="964.5" width="14.0" height="11.5" fill="#ed2e2b"/></g>
<path d="M2178.0 970.3 L2191.9 941.2 L2205.8 912.1 L2219.7 883.1 L2233.6 854.2 L2247.5 825.4 L2261.4 796.7 L2275.3 768.2 L2289.2 739.9 L2303.1 711.8 L2317.0 684.0 L2330.9 656.5 L2344.8 629.2 L2358.7 602.3 L2372.6 575.8 L2386.5 549.7 L2400.4 524.0 L2414.3 498.7 L2428.2 473.9 L2442.1 449.5 L2456.0 425.7 L2469.9 402.4 L2483.8 379.7 L2497.7 357.6 L2511.6 336.1 L2525.6 315.2 L2539.5 294.9 L2553.4 275.3 L2567.3 256.4 L2581.2 238.2 L2595.1 220.7 L2609.0 204.0 L2622.9 188.0 L2636.8 172.8 L2650.7 158.4 L2664.6 144.8 L2678.5 132.0 L2692.4 120.0 L2706.3 108.9 L2720.2 98.6 L2734.1 89.1 L2748.0 80.6 L2761.9 72.9 L2775.8 66.1 L2789.7 60.2 L2803.6 55.2 L2817.5 51.1 L2831.4 47.9 L2845.3 45.6 L2859.2 44.3 L2873.1 43.8 L2887.0 44.3 L2900.9 45.6 L2914.8 47.9 L2928.7 51.1 L2942.6 55.2 L2956.5 60.2 L2970.4 66.1 L2984.3 72.9 L2998.2 80.6 L3012.1 89.1 L3026.0 98.6 L3039.9 108.9 L3053.8 120.0 L3067.7 132.0 L3081.6 144.8 L3095.5 158.4 L3109.4 172.8 L3123.3 188.0 L3137.2 204.0 L3151.1 220.7 L3165.0 238.2 L3178.9 256.4 L3192.8 275.3 L3206.7 294.9 L3220.6 315.2 L3234.6 336.1 L3248.5 357.6 L3262.4 379.7 L3276.3 402.4 L3290.2 425.7 L3304.1 449.5 L3318.0 473.9 L3331.9 498.7 L3345.8 524.0 L3359.7 549.7 L3373.6 575.8 L3387.5 602.3 L3401.4 629.2 L3415.3 656.5 L3429.2 684.0 L3443.1 711.8 L3457.0 739.9 L3470.9 768.2 L3484.8 796.7 L3498.7 825.4 L3512.6 854.2 L3526.5 883.1 L3540.4 912.1 L3554.3 941.2 L3568.2 970.3" fill="none" stroke="#5cb946" stroke-width="4.5" stroke-linejoin="round"/>
<g><polygon points="2178.0,964.1 2180.5,968.0 2185.8,968.8 2182.1,972.1 2182.8,976.5 2178.0,974.5 2173.2,976.5 2173.9,972.1 2170.2,968.8 2175.5,968.0" fill="#5cb946" stroke="#5cb946" stroke-width="4.4" stroke-linejoin="round"/><polygon points="2205.8,905.9 2208.3,909.9 2213.6,910.7 2209.9,913.9 2210.6,918.3 2205.8,916.4 2201.0,918.3 2201.7,913.9 2198.0,910.7 2203.3,909.9" fill="#5cb946" stroke="#5cb946" stroke-width="4.4" stroke-linejoin="round"/><polygon points="2233.6,848.0 2236.1,851.9 2241.4,852.7 2237.7,855.9 2238.4,860.4 2233.6,858.4 2228.8,860.4 2229.5,855.9 2225.8,852.7 2231.1,851.9" fill="#5cb946" stroke="#5cb946" stroke-width="4.4" stroke-linejoin="round"/><polygon points="2261.4,790.5 2263.9,794.4 2269.2,795.2 2265.5,798.5 2266.2,802.9 2261.4,800.9 2256.6,802.9 2257.3,798.5 2253.6,795.2 2258.9,794.4" fill="#5cb946" stroke="#5cb946" stroke-width="4.4" stroke-linejoin="round"/><polygon points="2289.2,733.7 2291.7,737.6 2297.0,738.4 2293.3,741.7 2294.0,746.1 2289.2,744.1 2284.4,746.1 2285.1,741.7 2281.4,738.4 2286.7,737.6" fill="#5cb946" stroke="#5cb946" stroke-width="4.4" stroke-linejoin="round"/><polygon points="2317.0,677.8 2319.5,681.7 2324.8,682.5 2321.1,685.8 2321.8,690.2 2317.0,688.2 2312.2,690.2 2312.9,685.8 2309.2,682.5 2314.5,681.7" fill="#5cb946" stroke="#5cb946" stroke-width="4.4" stroke-linejoin="round"/><polygon points="2344.8,623.0 2347.4,627.0 2352.6,627.8 2348.9,631.0 2349.6,635.4 2344.8,633.5 2340.0,635.4 2340.7,631.0 2337.0,627.8 2342.3,627.0" fill="#5cb946" stroke="#5cb946" stroke-width="4.4" stroke-linejoin="round"/><polygon points="2372.6,569.6 2375.2,573.6 2380.4,574.4 2376.7,577.6 2377.4,582.0 2372.6,580.1 2367.8,582.0 2368.5,577.6 2364.8,574.4 2370.1,573.6" fill="#5cb946" stroke="#5cb946" stroke-width="4.4" stroke-linejoin="round"/><polygon points="2400.4,517.8 2403.0,521.7 2408.2,522.5 2404.5,525.7 2405.3,530.2 2400.4,528.2 2395.6,530.2 2396.3,525.7 2392.6,522.5 2397.9,521.7" fill="#5cb946" stroke="#5cb946" stroke-width="4.4" stroke-linejoin="round"/><polygon points="2428.2,467.7 2430.8,471.6 2436.0,472.4 2432.3,475.6 2433.1,480.1 2428.2,478.1 2423.4,480.1 2424.1,475.6 2420.4,472.4 2425.7,471.6" fill="#5cb946" stroke="#5cb946" stroke-width="4.4" stroke-linejoin="round"/><polygon points="2456.0,419.5 2458.6,423.5 2463.8,424.3 2460.1,427.5 2460.9,431.9 2456.0,430.0 2451.2,431.9 2452.0,427.5 2448.2,424.3 2453.5,423.5" fill="#5cb946" stroke="#5cb946" stroke-width="4.4" stroke-linejoin="round"/><polygon points="2483.8,373.5 2486.4,377.5 2491.6,378.3 2487.9,381.5 2488.7,385.9 2483.8,384.0 2479.0,385.9 2479.8,381.5 2476.0,378.3 2481.3,377.5" fill="#5cb946" stroke="#5cb946" stroke-width="4.4" stroke-linejoin="round"/><polygon points="2511.6,329.9 2514.2,333.8 2519.4,334.6 2515.7,337.8 2516.5,342.3 2511.6,340.3 2506.8,342.3 2507.6,337.8 2503.8,334.6 2509.1,333.8" fill="#5cb946" stroke="#5cb946" stroke-width="4.4" stroke-linejoin="round"/><polygon points="2539.5,288.7 2542.0,292.7 2547.3,293.4 2543.5,296.7 2544.3,301.1 2539.5,299.2 2534.6,301.1 2535.4,296.7 2531.7,293.4 2536.9,292.7" fill="#5cb946" stroke="#5cb946" stroke-width="4.4" stroke-linejoin="round"/><polygon points="2567.3,250.2 2569.8,254.2 2575.1,255.0 2571.3,258.2 2572.1,262.6 2567.3,260.7 2562.4,262.6 2563.2,258.2 2559.5,255.0 2564.7,254.2" fill="#5cb946" stroke="#5cb946" stroke-width="4.4" stroke-linejoin="round"/><polygon points="2595.1,214.5 2597.6,218.5 2602.9,219.3 2599.1,222.5 2599.9,226.9 2595.1,225.0 2590.2,226.9 2591.0,222.5 2587.3,219.3 2592.5,218.5" fill="#5cb946" stroke="#5cb946" stroke-width="4.4" stroke-linejoin="round"/><polygon points="2622.9,181.8 2625.4,185.8 2630.7,186.6 2627.0,189.8 2627.7,194.2 2622.9,192.3 2618.0,194.2 2618.8,189.8 2615.1,186.6 2620.3,185.8" fill="#5cb946" stroke="#5cb946" stroke-width="4.4" stroke-linejoin="round"/><polygon points="2650.7,152.2 2653.2,156.1 2658.5,156.9 2654.8,160.2 2655.5,164.6 2650.7,162.7 2645.8,164.6 2646.6,160.2 2642.9,156.9 2648.1,156.1" fill="#5cb946" stroke="#5cb946" stroke-width="4.4" stroke-linejoin="round"/><polygon points="2678.5,125.8 2681.0,129.7 2686.3,130.5 2682.6,133.7 2683.3,138.2 2678.5,136.2 2673.7,138.2 2674.4,133.7 2670.7,130.5 2675.9,129.7" fill="#5cb946" stroke="#5cb946" stroke-width="4.4" stroke-linejoin="round"/><polygon points="2706.3,102.7 2708.8,106.6 2714.1,107.4 2710.4,110.6 2711.1,115.1 2706.3,113.1 2701.5,115.1 2702.2,110.6 2698.5,107.4 2703.7,106.6" fill="#5cb946" stroke="#5cb946" stroke-width="4.4" stroke-linejoin="round"/><polygon points="2734.1,82.9 2736.6,86.9 2741.9,87.7 2738.2,90.9 2738.9,95.3 2734.1,93.4 2729.3,95.3 2730.0,90.9 2726.3,87.7 2731.6,86.9" fill="#5cb946" stroke="#5cb946" stroke-width="4.4" stroke-linejoin="round"/><polygon points="2761.9,66.7 2764.4,70.7 2769.7,71.4 2766.0,74.7 2766.7,79.1 2761.9,77.2 2757.1,79.1 2757.8,74.7 2754.1,71.4 2759.4,70.7" fill="#5cb946" stroke="#5cb946" stroke-width="4.4" stroke-linejoin="round"/><polygon points="2789.7,54.0 2792.2,58.0 2797.5,58.7 2793.8,62.0 2794.5,66.4 2789.7,64.5 2784.9,66.4 2785.6,62.0 2781.9,58.7 2787.2,58.0" fill="#5cb946" stroke="#5cb946" stroke-width="4.4" stroke-linejoin="round"/><polygon points="2817.5,44.9 2820.0,48.9 2825.3,49.6 2821.6,52.9 2822.3,57.3 2817.5,55.4 2812.7,57.3 2813.4,52.9 2809.7,49.6 2815.0,48.9" fill="#5cb946" stroke="#5cb946" stroke-width="4.4" stroke-linejoin="round"/><polygon points="2845.3,39.4 2847.8,43.4 2853.1,44.2 2849.4,47.4 2850.1,51.8 2845.3,49.9 2840.5,51.8 2841.2,47.4 2837.5,44.2 2842.8,43.4" fill="#5cb946" stroke="#5cb946" stroke-width="4.4" stroke-linejoin="round"/><polygon points="2873.1,37.6 2875.6,41.5 2880.9,42.3 2877.2,45.6 2877.9,50.0 2873.1,48.0 2868.3,50.0 2869.0,45.6 2865.3,42.3 2870.6,41.5" fill="#5cb946" stroke="#5cb946" stroke-width="4.4" stroke-linejoin="round"/><polygon points="2900.9,39.4 2903.4,43.4 2908.7,44.2 2905.0,47.4 2905.7,51.8 2900.9,49.9 2896.1,51.8 2896.8,47.4 2893.1,44.2 2898.4,43.4" fill="#5cb946" stroke="#5cb946" stroke-width="4.4" stroke-linejoin="round"/><polygon points="2928.7,44.9 2931.2,48.9 2936.5,49.6 2932.8,52.9 2933.5,57.3 2928.7,55.4 2923.9,57.3 2924.6,52.9 2920.9,49.6 2926.2,48.9" fill="#5cb946" stroke="#5cb946" stroke-width="4.4" stroke-linejoin="round"/><polygon points="2956.5,54.0 2959.0,58.0 2964.3,58.7 2960.6,62.0 2961.3,66.4 2956.5,64.5 2951.7,66.4 2952.4,62.0 2948.7,58.7 2954.0,58.0" fill="#5cb946" stroke="#5cb946" stroke-width="4.4" stroke-linejoin="round"/><polygon points="2984.3,66.7 2986.8,70.7 2992.1,71.4 2988.4,74.7 2989.1,79.1 2984.3,77.2 2979.5,79.1 2980.2,74.7 2976.5,71.4 2981.8,70.7" fill="#5cb946" stroke="#5cb946" stroke-width="4.4" stroke-linejoin="round"/><polygon points="3012.1,82.9 3014.6,86.9 3019.9,87.7 3016.2,90.9 3016.9,95.3 3012.1,93.4 3007.3,95.3 3008.0,90.9 3004.3,87.7 3009.6,86.9" fill="#5cb946" stroke="#5cb946" stroke-width="4.4" stroke-linejoin="round"/><polygon points="3039.9,102.7 3042.5,106.6 3047.7,107.4 3044.0,110.6 3044.7,115.1 3039.9,113.1 3035.1,115.1 3035.8,110.6 3032.1,107.4 3037.4,106.6" fill="#5cb946" stroke="#5cb946" stroke-width="4.4" stroke-linejoin="round"/><polygon points="3067.7,125.8 3070.3,129.7 3075.5,130.5 3071.8,133.7 3072.5,138.2 3067.7,136.2 3062.9,138.2 3063.6,133.7 3059.9,130.5 3065.2,129.7" fill="#5cb946" stroke="#5cb946" stroke-width="4.4" stroke-linejoin="round"/><polygon points="3095.5,152.2 3098.1,156.1 3103.3,156.9 3099.6,160.2 3100.4,164.6 3095.5,162.7 3090.7,164.6 3091.4,160.2 3087.7,156.9 3093.0,156.1" fill="#5cb946" stroke="#5cb946" stroke-width="4.4" stroke-linejoin="round"/><polygon points="3123.3,181.8 3125.9,185.8 3131.1,186.6 3127.4,189.8 3128.2,194.2 3123.3,192.3 3118.5,194.2 3119.2,189.8 3115.5,186.6 3120.8,185.8" fill="#5cb946" stroke="#5cb946" stroke-width="4.4" stroke-linejoin="round"/><polygon points="3151.1,214.5 3153.7,218.5 3158.9,219.3 3155.2,222.5 3156.0,226.9 3151.1,225.0 3146.3,226.9 3147.1,222.5 3143.3,219.3 3148.6,218.5" fill="#5cb946" stroke="#5cb946" stroke-width="4.4" stroke-linejoin="round"/><polygon points="3178.9,250.2 3181.5,254.2 3186.7,255.0 3183.0,258.2 3183.8,262.6 3178.9,260.7 3174.1,262.6 3174.9,258.2 3171.1,255.0 3176.4,254.2" fill="#5cb946" stroke="#5cb946" stroke-width="4.4" stroke-linejoin="round"/><polygon points="3206.7,288.7 3209.3,292.7 3214.5,293.4 3210.8,296.7 3211.6,301.1 3206.7,299.2 3201.9,301.1 3202.7,296.7 3198.9,293.4 3204.2,292.7" fill="#5cb946" stroke="#5cb946" stroke-width="4.4" stroke-linejoin="round"/><polygon points="3234.6,329.9 3237.1,333.8 3242.4,334.6 3238.6,337.8 3239.4,342.3 3234.6,340.3 3229.7,342.3 3230.5,337.8 3226.8,334.6 3232.0,333.8" fill="#5cb946" stroke="#5cb946" stroke-width="4.4" stroke-linejoin="round"/><polygon points="3262.4,373.5 3264.9,377.5 3270.2,378.3 3266.4,381.5 3267.2,385.9 3262.4,384.0 3257.5,385.9 3258.3,381.5 3254.6,378.3 3259.8,377.5" fill="#5cb946" stroke="#5cb946" stroke-width="4.4" stroke-linejoin="round"/><polygon points="3290.2,419.5 3292.7,423.5 3298.0,424.3 3294.2,427.5 3295.0,431.9 3290.2,430.0 3285.3,431.9 3286.1,427.5 3282.4,424.3 3287.6,423.5" fill="#5cb946" stroke="#5cb946" stroke-width="4.4" stroke-linejoin="round"/><polygon points="3318.0,467.7 3320.5,471.6 3325.8,472.4 3322.1,475.6 3322.8,480.1 3318.0,478.1 3313.1,480.1 3313.9,475.6 3310.2,472.4 3315.4,471.6" fill="#5cb946" stroke="#5cb946" stroke-width="4.4" stroke-linejoin="round"/><polygon points="3345.8,517.8 3348.3,521.7 3353.6,522.5 3349.9,525.7 3350.6,530.2 3345.8,528.2 3340.9,530.2 3341.7,525.7 3338.0,522.5 3343.2,521.7" fill="#5cb946" stroke="#5cb946" stroke-width="4.4" stroke-linejoin="round"/><polygon points="3373.6,569.6 3376.1,573.6 3381.4,574.4 3377.7,577.6 3378.4,582.0 3373.6,580.1 3368.8,582.0 3369.5,577.6 3365.8,574.4 3371.0,573.6" fill="#5cb946" stroke="#5cb946" stroke-width="4.4" stroke-linejoin="round"/><polygon points="3401.4,623.0 3403.9,627.0 3409.2,627.8 3405.5,631.0 3406.2,635.4 3401.4,633.5 3396.6,635.4 3397.3,631.0 3393.6,627.8 3398.8,627.0" fill="#5cb946" stroke="#5cb946" stroke-width="4.4" stroke-linejoin="round"/><polygon points="3429.2,677.8 3431.7,681.7 3437.0,682.5 3433.3,685.8 3434.0,690.2 3429.2,688.2 3424.4,690.2 3425.1,685.8 3421.4,682.5 3426.7,681.7" fill="#5cb946" stroke="#5cb946" stroke-width="4.4" stroke-linejoin="round"/><polygon points="3457.0,733.7 3459.5,737.6 3464.8,738.4 3461.1,741.7 3461.8,746.1 3457.0,744.1 3452.2,746.1 3452.9,741.7 3449.2,738.4 3454.5,737.6" fill="#5cb946" stroke="#5cb946" stroke-width="4.4" stroke-linejoin="round"/><polygon points="3484.8,790.5 3487.3,794.4 3492.6,795.2 3488.9,798.5 3489.6,802.9 3484.8,800.9 3480.0,802.9 3480.7,798.5 3477.0,795.2 3482.3,794.4" fill="#5cb946" stroke="#5cb946" stroke-width="4.4" stroke-linejoin="round"/><polygon points="3512.6,848.0 3515.1,851.9 3520.4,852.7 3516.7,855.9 3517.4,860.4 3512.6,858.4 3507.8,860.4 3508.5,855.9 3504.8,852.7 3510.1,851.9" fill="#5cb946" stroke="#5cb946" stroke-width="4.4" stroke-linejoin="round"/><polygon points="3540.4,905.9 3542.9,909.9 3548.2,910.7 3544.5,913.9 3545.2,918.3 3540.4,916.4 3535.6,918.3 3536.3,913.9 3532.6,910.7 3537.9,909.9" fill="#5cb946" stroke="#5cb946" stroke-width="4.4" stroke-linejoin="round"/><polygon points="3568.2,964.1 3570.7,968.0 3576.0,968.8 3572.3,972.1 3573.0,976.5 3568.2,974.5 3563.4,976.5 3564.1,972.1 3560.4,968.8 3565.7,968.0" fill="#5cb946" stroke="#5cb946" stroke-width="4.4" stroke-linejoin="round"/></g>
<path d="M2178.0 970.3 L2191.9 970.3 L2205.8 970.1 L2219.7 969.7 L2233.6 969.0 L2247.5 968.1 L2261.4 966.9 L2275.3 965.4 L2289.2 963.5 L2303.1 961.3 L2317.0 958.7 L2330.9 955.7 L2344.8 952.4 L2358.7 948.6 L2372.6 944.3 L2386.5 939.6 L2400.4 934.5 L2414.3 928.9 L2428.2 922.8 L2442.1 916.3 L2456.0 909.2 L2469.9 901.6 L2483.8 893.5 L2497.7 884.9 L2511.6 875.7 L2525.6 866.0 L2539.5 855.8 L2553.4 845.0 L2567.3 833.7 L2581.2 821.8 L2595.1 809.3 L2609.0 796.2 L2622.9 782.7 L2636.8 768.5 L2650.7 753.8 L2664.6 738.5 L2678.5 722.7 L2692.4 706.3 L2706.3 689.4 L2720.2 671.9 L2734.1 654.0 L2748.0 635.5 L2761.9 616.6 L2775.8 597.2 L2789.7 577.4 L2803.6 557.1 L2817.5 536.5 L2831.4 515.5 L2845.3 494.2 L2859.2 472.6 L2873.1 450.8 L2887.0 428.8 L2900.9 406.7 L2914.8 384.4 L2928.7 362.2 L2942.6 340.0 L2956.5 317.9 L2970.4 296.0 L2984.3 274.3 L2998.2 253.0 L3012.1 232.1 L3026.0 211.7 L3039.9 192.0 L3053.8 172.9 L3067.7 154.7 L3081.6 137.5 L3095.5 121.3 L3109.4 106.3 L3123.3 92.5 L3137.2 80.2 L3151.1 69.5 L3165.0 60.5 L3178.9 53.2 L3192.8 47.9 L3206.7 44.8 L3220.6 43.8 L3234.6 45.2 L3248.5 49.1 L3262.4 55.6 L3276.3 64.8 L3290.2 76.9 L3304.1 91.9 L3318.0 110.0 L3331.9 131.3 L3345.8 155.7 L3359.7 183.4 L3373.6 214.5 L3387.5 248.9 L3401.4 286.6 L3415.3 327.7 L3429.2 372.1 L3443.1 419.7 L3457.0 470.5 L3470.9 524.3 L3484.8 581.1 L3498.7 640.6 L3512.6 702.5 L3526.5 766.8 L3540.4 833.0 L3554.3 901.0 L3568.2 970.3" fill="none" stroke="#2a5caa" stroke-width="4.5" stroke-linejoin="round"/>
<g><path d="M2167.9 970.3H2188.1M2178.0 961.7V978.9M2169.6 962.9L2186.4 977.7M2169.6 977.7L2186.4 962.9" stroke="#2a5caa" stroke-width="5.0" fill="none"/><path d="M2195.7 970.1H2215.9M2205.8 961.5V978.7M2197.4 962.7L2214.2 977.5M2197.4 977.5L2214.2 962.7" stroke="#2a5caa" stroke-width="5.0" fill="none"/><path d="M2223.5 969.0H2243.7M2233.6 960.4V977.6M2225.2 961.6L2242.0 976.4M2225.2 976.4L2242.0 961.6" stroke="#2a5caa" stroke-width="5.0" fill="none"/><path d="M2251.3 966.9H2271.5M2261.4 958.3V975.5M2253.0 959.5L2269.8 974.3M2253.0 974.3L2269.8 959.5" stroke="#2a5caa" stroke-width="5.0" fill="none"/><path d="M2279.1 963.5H2299.3M2289.2 954.9V972.1M2280.8 956.1L2297.6 970.9M2280.8 970.9L2297.6 956.1" stroke="#2a5caa" stroke-width="5.0" fill="none"/><path d="M2306.9 958.7H2327.1M2317.0 950.1V967.3M2308.6 951.3L2325.4 966.1M2308.6 966.1L2325.4 951.3" stroke="#2a5caa" stroke-width="5.0" fill="none"/><path d="M2334.7 952.4H2354.9M2344.8 943.8V961.0M2336.4 945.0L2353.2 959.8M2336.4 959.8L2353.2 945.0" stroke="#2a5caa" stroke-width="5.0" fill="none"/><path d="M2362.5 944.3H2382.7M2372.6 935.7V952.9M2364.2 936.9L2381.0 951.7M2364.2 951.7L2381.0 936.9" stroke="#2a5caa" stroke-width="5.0" fill="none"/><path d="M2390.3 934.5H2410.5M2400.4 925.9V943.1M2392.0 927.1L2408.8 941.9M2392.0 941.9L2408.8 927.1" stroke="#2a5caa" stroke-width="5.0" fill="none"/><path d="M2418.1 922.8H2438.3M2428.2 914.2V931.4M2419.8 915.4L2436.6 930.2M2419.8 930.2L2436.6 915.4" stroke="#2a5caa" stroke-width="5.0" fill="none"/><path d="M2445.9 909.2H2466.1M2456.0 900.6V917.8M2447.6 901.8L2464.4 916.6M2447.6 916.6L2464.4 901.8" stroke="#2a5caa" stroke-width="5.0" fill="none"/><path d="M2473.7 893.5H2493.9M2483.8 884.9V902.1M2475.4 886.1L2492.2 900.9M2475.4 900.9L2492.2 886.1" stroke="#2a5caa" stroke-width="5.0" fill="none"/><path d="M2501.5 875.7H2521.7M2511.6 867.1V884.3M2503.2 868.3L2520.0 883.1M2503.2 883.1L2520.0 868.3" stroke="#2a5caa" stroke-width="5.0" fill="none"/><path d="M2529.4 855.8H2549.6M2539.5 847.2V864.4M2531.1 848.4L2547.9 863.2M2531.1 863.2L2547.9 848.4" stroke="#2a5caa" stroke-width="5.0" fill="none"/><path d="M2557.2 833.7H2577.4M2567.3 825.1V842.3M2558.9 826.3L2575.7 841.1M2558.9 841.1L2575.7 826.3" stroke="#2a5caa" stroke-width="5.0" fill="none"/><path d="M2585.0 809.3H2605.2M2595.1 800.7V817.9M2586.7 801.9L2603.5 816.7M2586.7 816.7L2603.5 801.9" stroke="#2a5caa" stroke-width="5.0" fill="none"/><path d="M2612.8 782.7H2633.0M2622.9 774.1V791.3M2614.5 775.3L2631.3 790.1M2614.5 790.1L2631.3 775.3" stroke="#2a5caa" stroke-width="5.0" fill="none"/><path d="M2640.6 753.8H2660.8M2650.7 745.2V762.4M2642.3 746.4L2659.1 761.2M2642.3 761.2L2659.1 746.4" stroke="#2a5caa" stroke-width="5.0" fill="none"/><path d="M2668.4 722.7H2688.6M2678.5 714.1V731.3M2670.1 715.3L2686.9 730.1M2670.1 730.1L2686.9 715.3" stroke="#2a5caa" stroke-width="5.0" fill="none"/><path d="M2696.2 689.4H2716.4M2706.3 680.8V698.0M2697.9 682.0L2714.7 696.8M2697.9 696.8L2714.7 682.0" stroke="#2a5caa" stroke-width="5.0" fill="none"/><path d="M2724.0 654.0H2744.2M2734.1 645.4V662.6M2725.7 646.6L2742.5 661.4M2725.7 661.4L2742.5 646.6" stroke="#2a5caa" stroke-width="5.0" fill="none"/><path d="M2751.8 616.6H2772.0M2761.9 608.0V625.2M2753.5 609.2L2770.3 624.0M2753.5 624.0L2770.3 609.2" stroke="#2a5caa" stroke-width="5.0" fill="none"/><path d="M2779.6 577.4H2799.8M2789.7 568.8V586.0M2781.3 570.0L2798.1 584.8M2781.3 584.8L2798.1 570.0" stroke="#2a5caa" stroke-width="5.0" fill="none"/><path d="M2807.4 536.5H2827.6M2817.5 527.9V545.1M2809.1 529.1L2825.9 543.9M2809.1 543.9L2825.9 529.1" stroke="#2a5caa" stroke-width="5.0" fill="none"/><path d="M2835.2 494.2H2855.4M2845.3 485.6V502.8M2836.9 486.8L2853.7 501.6M2836.9 501.6L2853.7 486.8" stroke="#2a5caa" stroke-width="5.0" fill="none"/><path d="M2863.0 450.8H2883.2M2873.1 442.2V459.4M2864.7 443.4L2881.5 458.2M2864.7 458.2L2881.5 443.4" stroke="#2a5caa" stroke-width="5.0" fill="none"/><path d="M2890.8 406.7H2911.0M2900.9 398.1V415.3M2892.5 399.3L2909.3 414.1M2892.5 414.1L2909.3 399.3" stroke="#2a5caa" stroke-width="5.0" fill="none"/><path d="M2918.6 362.2H2938.8M2928.7 353.6V370.8M2920.3 354.8L2937.1 369.6M2920.3 369.6L2937.1 354.8" stroke="#2a5caa" stroke-width="5.0" fill="none"/><path d="M2946.4 317.9H2966.6M2956.5 309.3V326.5M2948.1 310.5L2964.9 325.3M2948.1 325.3L2964.9 310.5" stroke="#2a5caa" stroke-width="5.0" fill="none"/><path d="M2974.2 274.3H2994.4M2984.3 265.7V282.9M2975.9 266.9L2992.7 281.7M2975.9 281.7L2992.7 266.9" stroke="#2a5caa" stroke-width="5.0" fill="none"/><path d="M3002.0 232.1H3022.2M3012.1 223.5V240.7M3003.7 224.7L3020.5 239.5M3003.7 239.5L3020.5 224.7" stroke="#2a5caa" stroke-width="5.0" fill="none"/><path d="M3029.8 192.0H3050.0M3039.9 183.4V200.6M3031.5 184.6L3048.3 199.4M3031.5 199.4L3048.3 184.6" stroke="#2a5caa" stroke-width="5.0" fill="none"/><path d="M3057.6 154.7H3077.8M3067.7 146.1V163.3M3059.3 147.3L3076.1 162.1M3059.3 162.1L3076.1 147.3" stroke="#2a5caa" stroke-width="5.0" fill="none"/><path d="M3085.4 121.3H3105.6M3095.5 112.7V129.9M3087.1 113.9L3103.9 128.7M3087.1 128.7L3103.9 113.9" stroke="#2a5caa" stroke-width="5.0" fill="none"/><path d="M3113.2 92.5H3133.4M3123.3 83.9V101.1M3114.9 85.1L3131.7 99.9M3114.9 99.9L3131.7 85.1" stroke="#2a5caa" stroke-width="5.0" fill="none"/><path d="M3141.0 69.5H3161.2M3151.1 60.9V78.1M3142.7 62.1L3159.5 76.9M3142.7 76.9L3159.5 62.1" stroke="#2a5caa" stroke-width="5.0" fill="none"/><path d="M3168.8 53.2H3189.0M3178.9 44.6V61.8M3170.5 45.8L3187.3 60.6M3170.5 60.6L3187.3 45.8" stroke="#2a5caa" stroke-width="5.0" fill="none"/><path d="M3196.6 44.8H3216.8M3206.7 36.2V53.4M3198.3 37.4L3215.1 52.2M3198.3 52.2L3215.1 37.4" stroke="#2a5caa" stroke-width="5.0" fill="none"/><path d="M3224.5 45.2H3244.7M3234.6 36.6V53.8M3226.2 37.8L3243.0 52.6M3226.2 52.6L3243.0 37.8" stroke="#2a5caa" stroke-width="5.0" fill="none"/><path d="M3252.3 55.6H3272.5M3262.4 47.0V64.2M3254.0 48.2L3270.8 63.0M3254.0 63.0L3270.8 48.2" stroke="#2a5caa" stroke-width="5.0" fill="none"/><path d="M3280.1 76.9H3300.3M3290.2 68.3V85.5M3281.8 69.5L3298.6 84.3M3281.8 84.3L3298.6 69.5" stroke="#2a5caa" stroke-width="5.0" fill="none"/><path d="M3307.9 110.0H3328.1M3318.0 101.4V118.6M3309.6 102.6L3326.4 117.4M3309.6 117.4L3326.4 102.6" stroke="#2a5caa" stroke-width="5.0" fill="none"/><path d="M3335.7 155.7H3355.9M3345.8 147.1V164.3M3337.4 148.3L3354.2 163.1M3337.4 163.1L3354.2 148.3" stroke="#2a5caa" stroke-width="5.0" fill="none"/><path d="M3363.5 214.5H3383.7M3373.6 205.9V223.1M3365.2 207.1L3382.0 221.9M3365.2 221.9L3382.0 207.1" stroke="#2a5caa" stroke-width="5.0" fill="none"/><path d="M3391.3 286.6H3411.5M3401.4 278.0V295.2M3393.0 279.2L3409.8 294.0M3393.0 294.0L3409.8 279.2" stroke="#2a5caa" stroke-width="5.0" fill="none"/><path d="M3419.1 372.1H3439.3M3429.2 363.5V380.7M3420.8 364.7L3437.6 379.5M3420.8 379.5L3437.6 364.7" stroke="#2a5caa" stroke-width="5.0" fill="none"/><path d="M3446.9 470.5H3467.1M3457.0 461.9V479.1M3448.6 463.1L3465.4 477.9M3448.6 477.9L3465.4 463.1" stroke="#2a5caa" stroke-width="5.0" fill="none"/><path d="M3474.7 581.1H3494.9M3484.8 572.5V589.7M3476.4 573.7L3493.2 588.5M3476.4 588.5L3493.2 573.7" stroke="#2a5caa" stroke-width="5.0" fill="none"/><path d="M3502.5 702.5H3522.7M3512.6 693.9V711.1M3504.2 695.1L3521.0 709.9M3504.2 709.9L3521.0 695.1" stroke="#2a5caa" stroke-width="5.0" fill="none"/><path d="M3530.3 833.0H3550.5M3540.4 824.4V841.6M3532.0 825.6L3548.8 840.4M3532.0 840.4L3548.8 825.6" stroke="#2a5caa" stroke-width="5.0" fill="none"/><path d="M3558.1 970.3H3578.3M3568.2 961.7V978.9M3559.8 962.9L3576.6 977.7M3559.8 977.7L3576.6 962.9" stroke="#2a5caa" stroke-width="5.0" fill="none"/></g>
<rect x="2164.5" y="34.2" width="1417.3" height="945.5" fill="none" stroke="#262324" stroke-width="4.3"/>
<path d="M1125.0 95.5H1261.5" stroke="#ed2e2b" stroke-width="4.5"/>
<rect x="1186.2" y="89.8" width="14.0" height="11.5" fill="#ed2e2b"/>
<text x="1270.8" y="117.8" font-size="67" class="i">E</text><text x="1311.3" y="132.2" font-size="40" class="i">i</text><text transform="translate(1320.6,112.1) scale(1.122,0.66)" font-size="67">=</text><text x="1359.8" y="117.8" font-size="67">0.30</text><text x="1478.3" y="117.8" font-size="67">,</text><text x="1512.2" y="117.8" font-size="67" class="i">A</text><text x="1549.7" y="132.2" font-size="40" class="i">i</text><text transform="translate(1559.0,112.1) scale(1.122,0.66)" font-size="67">=</text><text x="1598.2" y="117.8" font-size="67">0.10</text>
<path d="M1127.0 167.2H1259.5" stroke="#5cb946" stroke-width="4.5"/>
<polygon points="1193.2,161.0 1195.8,164.9 1201.0,165.7 1197.3,169.0 1198.1,173.4 1193.2,171.4 1188.4,173.4 1189.2,169.0 1185.5,165.7 1190.7,164.9" fill="#5cb946" stroke="#5cb946" stroke-width="4.4" stroke-linejoin="round"/>
<text x="1270.8" y="189.4" font-size="67" class="i">E</text><text x="1311.3" y="203.8" font-size="40" class="i">i</text><text transform="translate(1320.6,183.7) scale(1.122,0.66)" font-size="67">=</text><text x="1359.8" y="189.4" font-size="67">0.50</text><text x="1478.3" y="189.4" font-size="67">,</text><text x="1512.2" y="189.4" font-size="67" class="i">A</text><text x="1549.7" y="203.8" font-size="40" class="i">i</text><text transform="translate(1559.0,183.7) scale(1.122,0.66)" font-size="67">=</text><text x="1598.2" y="189.4" font-size="67">0.50</text>
<path d="M1127.0 239.0H1259.5" stroke="#2a5caa" stroke-width="4.5"/>
<path d="M1183.2 239.0H1203.3M1193.2 230.4V247.6M1184.8 231.6L1201.7 246.4M1184.8 246.4L1201.7 231.6" stroke="#2a5caa" stroke-width="5.0" fill="none"/>
<text x="1270.8" y="261.0" font-size="67" class="i">E</text><text x="1311.3" y="275.4" font-size="40" class="i">i</text><text transform="translate(1320.6,255.3) scale(1.122,0.66)" font-size="67">=</text><text x="1359.8" y="261.0" font-size="67">0.25</text><text x="1478.3" y="261.0" font-size="67">,</text><text x="1512.2" y="261.0" font-size="67" class="i">A</text><text x="1549.7" y="275.4" font-size="40" class="i">i</text><text transform="translate(1559.0,255.3) scale(1.122,0.66)" font-size="67">=</text><text x="1598.2" y="261.0" font-size="67">0.75</text>
<path d="M2871.0 733.5H3007.8" stroke="#ed2e2b" stroke-width="4.5"/>
<rect x="2932.4" y="727.8" width="14.0" height="11.5" fill="#ed2e2b"/>
<text x="3022.9" y="756.6" font-size="67" class="i">E</text><text x="3063.4" y="771.0" font-size="40" class="i">i</text><text transform="translate(3072.7,750.9) scale(1.122,0.66)" font-size="67">=</text><text x="3111.9" y="756.6" font-size="67">0.50</text>
<path d="M2873.0 804.8H3005.8" stroke="#5cb946" stroke-width="4.5"/>
<polygon points="2939.4,798.6 2941.9,802.5 2947.2,803.3 2943.5,806.6 2944.2,811.0 2939.4,809.0 2934.6,811.0 2935.3,806.6 2931.6,803.3 2936.9,802.5" fill="#5cb946" stroke="#5cb946" stroke-width="4.4" stroke-linejoin="round"/>
<text x="3022.9" y="828.3" font-size="67" class="i">E</text><text x="3063.4" y="842.7" font-size="40" class="i">i</text><text transform="translate(3072.7,822.6) scale(1.122,0.66)" font-size="67">=</text><text x="3111.9" y="828.3" font-size="67">1.00</text>
<path d="M2873.0 876.8H3005.8" stroke="#2a5caa" stroke-width="4.5"/>
<path d="M2929.3 876.8H2949.5M2939.4 868.2V885.4M2931.0 869.4L2947.8 884.2M2931.0 884.2L2947.8 869.4" stroke="#2a5caa" stroke-width="5.0" fill="none"/>
<text x="3022.9" y="900.0" font-size="67" class="i">E</text><text x="3063.4" y="914.4" font-size="40" class="i">i</text><text transform="translate(3072.7,894.3) scale(1.122,0.66)" font-size="67">=</text><text x="3111.9" y="900.0" font-size="67">2.40</text>
<text x="1092.0" y="1153.0" text-anchor="middle" font-size="67" class="i">F</text>
<text x="2873.7" y="1153.0" text-anchor="middle" font-size="67" class="i">F</text>
<text transform="translate(224,640) rotate(-90)" font-size="67"><tspan x="-1.9" y="0">(</tspan><tspan x="20.1" y="0">1</tspan><tspan x="52.7" y="0">−</tspan><tspan class="i" x="97.9" y="0">F</tspan><tspan x="136.3" y="0">)</tspan><tspan class="i" font-size="40" x="159.2" y="-22.5">E</tspan><tspan class="i" font-size="28" x="183.1" y="-8.7">i</tspan><tspan class="i" x="191.2" y="0">F</tspan><tspan class="i" font-size="40" x="236.5" y="-22.5">A</tspan><tspan class="i" font-size="28" x="260" y="-8.7">i</tspan></text>
<text transform="translate(1974.6,624) rotate(-90)" font-size="67"><tspan x="-1.5" y="0">sin(</tspan><tspan x="97" y="0">π</tspan><tspan class="i" x="137.4" y="0">F</tspan><tspan class="i" font-size="40" x="173" y="-22.5">E</tspan><tspan class="i" font-size="28" x="196.8" y="-14.7">i</tspan><tspan x="202.3" y="0">)</tspan></text>
<text x="1082.2" y="1252.4" text-anchor="middle" font-size="67" textLength="982" lengthAdjust="spacingAndGlyphs">(a) Lee-Tarver reaction rate equation</text>
<text x="2873.0" y="1252.4" text-anchor="middle" font-size="67" textLength="950" lengthAdjust="spacingAndGlyphs">(b) Improved reaction rate equation</text>
</svg></body></html>
